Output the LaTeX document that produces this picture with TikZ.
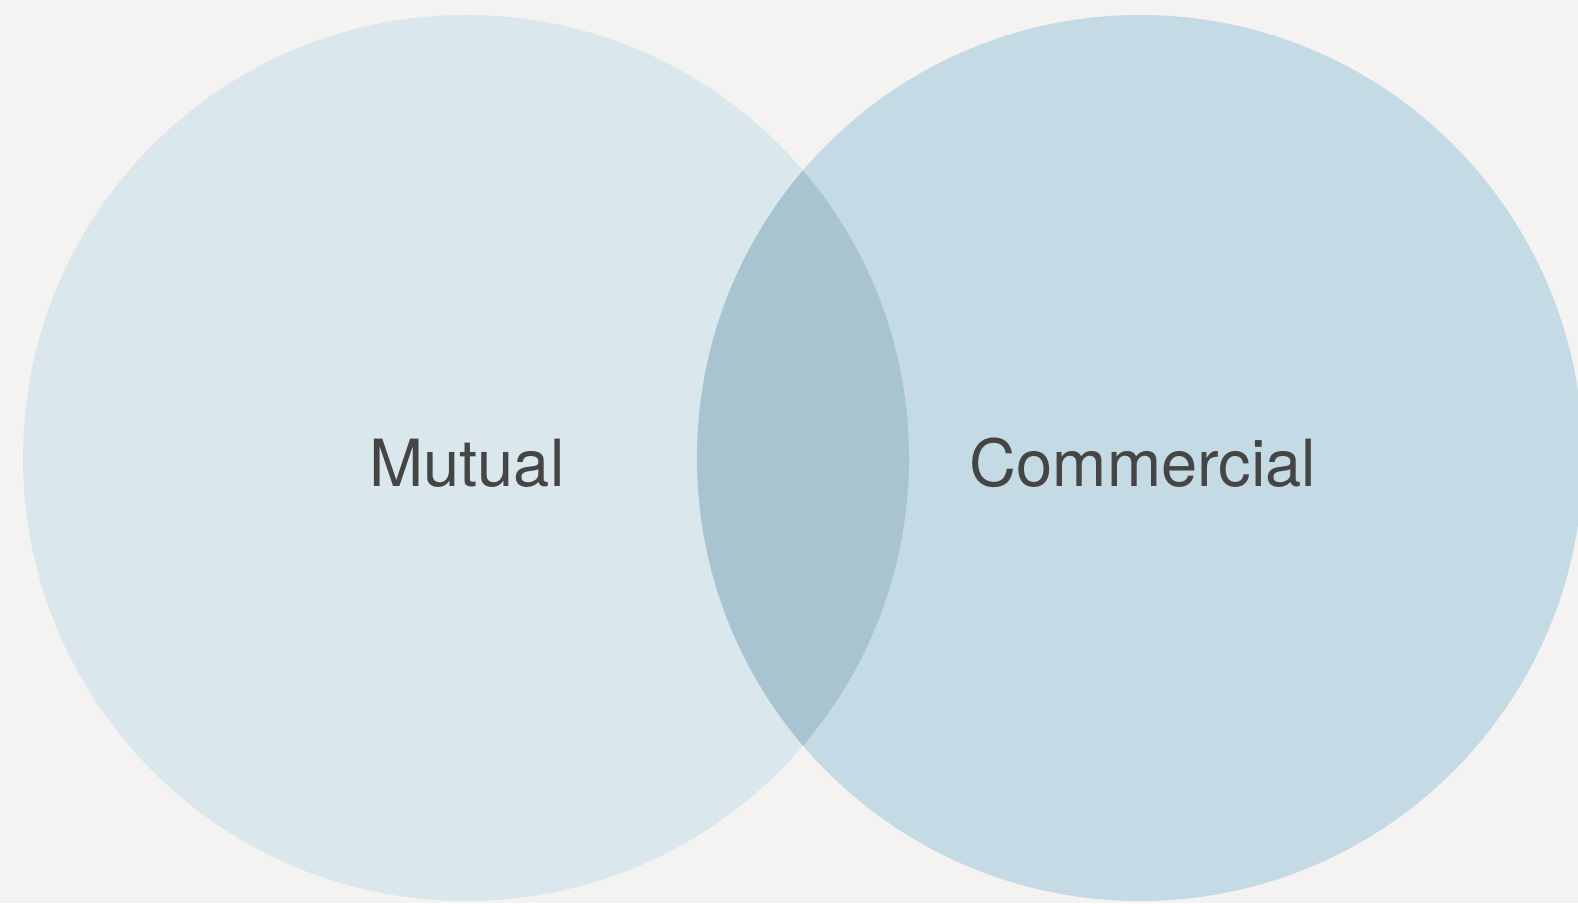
\documentclass[tikz,border=0pt]{standalone}
\usepackage{fontspec}
\setmainfont{TeX Gyre Heros}
\usepackage{tikz}

\definecolor{paper}{HTML}{F4F3F2}
\definecolor{mutualblue}{HTML}{DAE7EC}
\definecolor{commblue}{HTML}{C4DAE4}
\definecolor{bothblue}{HTML}{A8C4D0}
\definecolor{labelgray}{HTML}{454545}

\tikzset{
  setlabel/.style = {text=labelgray, font=\fontsize{65}{78}\selectfont, anchor=base, inner sep=0pt}
}

\begin{document}
\begin{tikzpicture}[x=1pt, y=1pt]
\useasboundingbox (0,0) rectangle (1578,903);
\fill [paper] (0,0) rectangle (1578,903);

% the two sets
\fill [mutualblue] (466,445) circle [radius=443];
\fill [commblue] (1140,445) circle [radius=443];

% overlap
\begin{scope}
  \clip (466,445) circle [radius=443];
  \fill [bothblue] (1140,445) circle [radius=443];
\end{scope}

\node [setlabel] (mutual) at (467,417) {Mutual};
\node [setlabel] (commercial) at (1143,417) {Commercial};
\end{tikzpicture}
\end{document}
